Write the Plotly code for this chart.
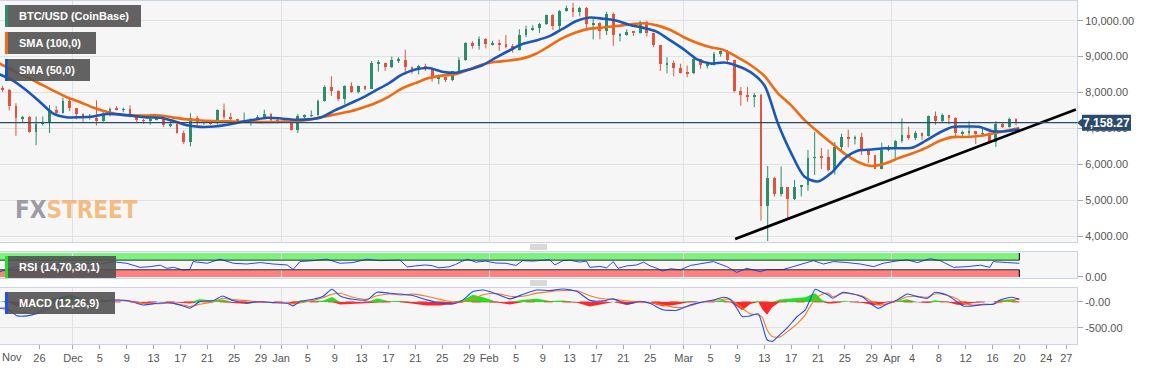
import numpy as np
import pandas as pd
import plotly.graph_objects as go
from plotly.subplots import make_subplots

# ---------------- data ----------------
candle_dates = pd.date_range("2019-11-20 12:00", "2020-04-19 12:00", freq="D")
open_ = [8120, 8080, 7620, 7280, 7330, 6910, 7130, 7170, 7520, 7430, 7760,
         7560, 7400, 7300, 7300, 7200, 7400, 7540, 7520, 7530, 7340, 7230, 7210, 7250, 7270, 7080, 7120, 6880, 6620, 7290, 7150, 7190, 7140, 7520, 7320, 7250, 7200, 7200, 7250, 7310, 7390, 7220,
         7170, 7190, 6960, 7340, 7350, 7360, 7760, 8150, 8050, 7820, 8190, 8020, 8180, 8110, 8810, 8810, 8720, 8900, 8910, 8700, 8630, 8740, 8660, 8390, 8430, 8340, 8600, 8900, 9380, 9290, 9500,
         9350, 9380, 9340, 9290, 9180, 9610, 9760, 9800, 9900, 10160, 9850, 10270, 10350, 10230, 10360, 9900, 9930, 9700, 10180, 9600, 9600, 9690, 9660, 9970, 9650, 9310, 8780, 8810, 8690,
         8540, 8530, 8920, 8760, 8760, 9070, 9150, 8900, 8030, 7940, 7890, 7940, 4830, 5620, 5170, 5360, 5030, 5370, 5410, 6180, 6200, 6190, 5830, 6490, 6770, 6690, 6760, 6380, 6250, 5880, 6410,
         6430, 6650, 6810, 6740, 6870, 6780, 7340, 7200, 7370, 7300, 6870, 6890, 6920, 6850, 6860, 6630, 7120, 7030, 7260]
high = [8190, 8100, 7700, 7350, 7350, 7330, 7330, 7650, 7620, 7860, 7830,
        7560, 7420, 7400, 7780, 7490, 7580, 7620, 7580, 7640, 7400, 7270, 7280, 7320, 7290, 7200, 7140, 6940, 7420, 7350, 7220, 7190, 7530, 7690, 7430, 7270, 7440, 7280, 7370, 7520, 7420, 7310,
        7260, 7200, 7400, 7390, 7500, 7800, 8200, 8450, 8060, 8200, 8280, 8190, 8190, 8880, 8900, 8830, 9000, 8980, 9190, 8720, 8770, 8800, 8670, 8500, 8440, 8600, 8980, 9400, 9430, 9560, 9520,
        9440, 9470, 9600, 9350, 9760, 9860, 9870, 9940, 10170, 10180, 10300, 10420, 10500, 10390, 10380, 10050, 9960, 10250, 10230, 9650, 9760, 9700, 10000, 10000, 9660, 9320, 8980, 8890, 8800,
        8750, 8960, 8930, 8850, 9130, 9170, 9190, 8900, 8150, 8150, 7980, 7960, 5950, 5650, 5940, 5370, 5560, 5420, 6400, 6900, 6450, 6410, 6620, 6850, 6960, 6800, 6880, 6390, 6260, 6600, 6530,
        6680, 7280, 7050, 6930, 6880, 7360, 7470, 7420, 7380, 7310, 6940, 7200, 6930, 6990, 6940, 7200, 7150, 7300, 7280]
low = [8020, 7500, 6790, 7150, 6880, 6530, 7080, 6870, 7380, 7410, 7480,
       7250, 7170, 7240, 7080, 7180, 7330, 7500, 7450, 7300, 7170, 7130, 7100, 7220, 7040, 7030, 6850, 6560, 6500, 7050, 7100, 7100, 7120, 7250, 7160, 7130, 7160, 7070, 7240, 7300, 7200, 7140,
       7150, 6940, 6870, 7270, 7320, 7350, 7740, 7900, 7760, 7670, 7990, 7970, 8060, 8100, 8580, 8600, 8680, 8820, 8500, 8520, 8500, 8600, 8300, 8230, 8290, 8310, 8560, 8880, 9220, 9190, 9230,
       9310, 9160, 9230, 9110, 9170, 9540, 9720, 9660, 9880, 9740, 9730, 10250, 10100, 10120, 9800, 9480, 9480, 9600, 9300, 9420, 9580, 9580, 9640, 9560, 9260, 8600, 8530, 8450, 8530,
       8420, 8510, 8660, 8670, 8750, 9000, 8850, 8000, 7630, 7740, 7590, 4430, 3860, 5100, 5100, 4450, 5000, 5100, 5260, 5700, 5870, 5800, 5710, 6380, 6470, 6550, 6260, 6030, 5880, 5860, 6360,
       6160, 6600, 6680, 6670, 6680, 6770, 7100, 7150, 7110, 6780, 6780, 6800, 6560, 6790, 6620, 6480, 7010, 7020, 7080]
close = [8080, 7620, 7280, 7330, 6910, 7130, 7170, 7520, 7430, 7760, 7560,
         7400, 7300, 7300, 7200, 7400, 7540, 7520, 7530, 7340, 7230, 7210, 7250, 7270, 7080, 7120, 6880, 6620, 7290, 7150, 7190, 7140, 7520, 7320, 7250, 7200, 7200, 7250, 7310, 7390, 7220, 7170,
         7190, 6960, 7340, 7350, 7360, 7760, 8150, 8050, 7820, 8190, 8020, 8180, 8110, 8810, 8810, 8720, 8900, 8910, 8700, 8630, 8740, 8660, 8390, 8430, 8340, 8600, 8900, 9380, 9290, 9500, 9350,
         9380, 9340, 9290, 9180, 9610, 9760, 9800, 9900, 10160, 9850, 10270, 10350, 10230, 10360, 9900, 9930, 9700, 10180, 9600, 9600, 9690, 9660, 9970, 9650, 9310, 8780, 8810, 8690, 8540,
         8530, 8920, 8760, 8760, 9070, 9150, 8900, 8030, 7940, 7890, 7940, 4830, 5620, 5170, 5360, 5030, 5370, 5410, 6180, 6200, 6190, 5830, 6490, 6770, 6690, 6760, 6380, 6250, 5880, 6410, 6430,
         6650, 6810, 6740, 6870, 6780, 7340, 7200, 7370, 7300, 6870, 6890, 6920, 6850, 6860, 6630, 7120, 7030, 7260, 7158]

base_day = pd.Timestamp("2019-11-20")   # day offsets below are counted from this date

sma_days = list(range(0, 153, 2))
sma100 = [8810, 8620, 8435, 8250, 8060, 7875, 7735, 7580, 7460, 7380, 7365, 7360, 7360, 7300, 7250, 7220,
          7205, 7195, 7180, 7175, 7175, 7185, 7200, 7235, 7310, 7385, 7460, 7570, 7700, 7880, 8110, 8260,
          8400, 8470, 8510, 8640, 8780, 8855, 8890, 8950, 9080, 9300, 9520, 9680, 9780, 9810, 9850, 9895,
          9930, 9870, 9740, 9540, 9380, 9260, 9180, 8980, 8760, 8460, 7980, 7640, 7230, 6900, 6590, 6290,
          6060, 5950, 6020, 6170, 6300, 6450, 6640, 6755, 6760, 6785, 6855, 6930, 7010]
sma50 = [8510, 8340, 8070, 7750, 7420, 7310, 7310, 7330, 7400, 7390, 7345, 7305, 7297, 7205, 7085, 7040,
         7050, 7100, 7175, 7240, 7295, 7275, 7240, 7250, 7310, 7500, 7670, 7840, 8045, 8250, 8495, 8640,
         8680, 8580, 8550, 8640, 8760, 8970, 9170, 9355, 9450, 9570, 9780, 9990, 10090, 10055, 10000, 9880,
         9800, 9690, 9450, 9200, 8920, 8805, 8835, 8740, 8560, 8200, 7150, 6310, 5650, 5520, 5760, 6170,
         6380, 6410, 6445, 6445, 6460, 6650, 6870, 7040, 7050, 7045, 6920, 6920, 6970]

rsi_days = [0.1, 1.1, 2.6, 5.1, 7.6, 10, 12.5, 15, 17, 19, 21, 22.5, 24, 25, 26, 27.4, 28.4, 28.9, 31, 32.9,
            34.9, 36.9, 38.9, 40.8, 42.9, 43.8, 44.8, 46.8, 48.8, 50.8, 52.7, 54.8, 56.7, 59.7, 60.8, 62, 63.5,
            64.5, 65.5, 67, 68, 69, 69.8, 71, 72.5, 74, 75.5, 77, 78, 79.5, 81, 82, 82.8, 84, 85, 86.5, 87.5, 88,
            89.5, 90.5, 91.5, 92.2, 93.5, 95, 96, 97, 98, 98.8, 100, 101.5, 103, 104.4, 106.4, 108.4, 109.9,
            111.4, 113.4, 114.4, 116.8, 118.3, 119.8, 121.3, 122.8, 124.3, 126.3, 128.3, 130.3, 131.7, 133.8,
            135.3, 136.8, 138.7, 140.2, 142.2, 144.2, 146.2, 147.6, 148.1, 150.2, 152.0]
rsi_vals = [22, 31, 43, 54, 50, 54, 57, 54, 63, 57, 40, 43, 49, 36, 40, 29, 31, 64, 57, 74,
            57, 54, 60, 54, 50, 31, 64, 68, 74, 57, 60, 74, 68, 70, 42, 46, 50, 47, 38, 42,
            52, 66, 74, 62, 66, 58, 57, 48, 68, 66, 70, 72, 50, 68, 70, 62, 66, 40, 44, 38,
            64, 36, 46, 50, 62, 46, 36, 25, 34, 30, 48, 54, 64, 43, 19, 36, 22, 31, 31, 43,
            57, 68, 54, 64, 60, 54, 43, 57, 67, 71, 60, 76, 68, 40, 43, 49, 40, 64, 60, 57]

macd_days = [0.12, 1.16, 2.65, 4.14, 5.63, 7.57, 9.51, 11.0, 13.1, 15.0, 17.55, 19.5, 21.4, 23.5, 25.4,
             27.4, 28.4, 29.9, 31.9, 33.3, 34.8, 36.9, 38.9, 40.8, 42.9, 43.8, 44.8, 46.8, 48.2, 49.6, 50.8,
             52.7, 54.8, 56.3, 58.2, 59.7, 61.7, 63.7, 65.7, 67.6, 69.1, 70.6, 72.1, 74.2, 76.1, 78.1, 80.1,
             82.1, 84.0, 86.1, 88.0, 90.0, 91.5, 93.5, 95.5, 97.0, 98.9, 101.0, 102.9, 104.4, 106.4, 107.9,
             108.9, 109.9, 110.7, 111.9, 113.1, 113.7, 114.4, 115.2, 116.3, 117.5, 118.9, 120.1, 120.8, 121.6,
             122.6, 123.5, 124.2, 125.7, 127.2, 128.7, 130.1, 131.0, 132.3, 133.8, 135.3, 136.8, 138.3, 139.4,
             141.2, 142.7, 143.6, 145.1, 146.6, 148.1, 149.1, 150.9, 152.0]
macd_vals = [-122, -122, -269, -269, -218, -58, 90, 115, 6, 6, 38, 19, -58, -26, -13,
             -77, -122, 6, 26, 115, 26, -13, 6, -13, -26, -77, 6, 51, 103, 244, 115,
             51, 38, 186, 167, 154, 120, 40, -20, -40, 40, 200, 230, 150, 60, 150, 230,
             220, 250, 200, 30, 20, 60, -40, 10, -30, -150, -160, -60, -13, 38, 90,
             51, -122, -282, -269, -231, -442, -731, -763, -635, -487, -282, -154, 38, 244,
             186, 135, 70, 186, 154, 90, -58, -122, -38, 38, 154, 103, 70, 186,
             135, 6, -77, -77, -45, -45, 38, 90, 51]
signal_vals = [-122, -150, -186, -215, -231, -122, -10, 10, 19, 19, 38, 10, -25, -35, -26,
               -58, -90, -45, 0, 70, 45, 26, 0, -13, -20, -38, -20, 26, 80, 150, 167,
               90, 51, 120, 154, 135, 150, 110, 50, 0, 0, 60, 140, 160, 110, 110, 170,
               200, 220, 215, 120, 60, 50, 20, 0, -10, -60, -110, -80, -10, 30, 51,
               51, -38, -120, -231, -250, -300, -538, -667, -680, -570, -420, -250, -90, 60,
               150, 167, 100, 167, 154, 110, 0, -60, -38, 20, 100, 110, 90, 154,
               130, 60, -20, -58, -58, -40, 0, 38, 51]
hist_vals = [0, 28, -83, -54, 13, 64, 100, 105, -13, -13, 0, 9, -33, 9, 13,
             -19, -32, 51, 26, 45, -19, -39, 6, 0, -6, -39, 26, 25, 23, 94, -52,
             -39, -13, 66, 13, 19, -30, -70, -70, -40, 40, 140, 90, -10, -50, 40, 60,
             20, 30, -15, -90, -40, 10, -60, 10, -20, -90, -50, 20, -3, 8, 39,
             0, -84, -162, -38, 19, -142, -250, -96, 45, 60, 70, 90, 128, 170,
             36, -32, -30, 19, 0, -20, -58, -62, 0, 18, 54, -7, -20, 32,
             5, -54, -57, -19, 13, -5, 38, 52, 0]

last_price = 7158.27
trend_dates = ["2020-03-08 15:30", "2020-04-28 10:00"]
trend_vals = [3917, 7528]

main_ticks = [4000, 5000, 6000, 7000, 8000, 9000, 10000]
macd_ticks = [0, -500]
macd_ticktext = ["-0.00", "-500.00"]
month_starts = ["2019-12-01", "2020-01-01", "2020-02-01", "2020-03-01", "2020-04-01"]
tick_dates = ["2019-11-26", "2019-12-01", "2019-12-05", "2019-12-09", "2019-12-13",
              "2019-12-17", "2019-12-21", "2019-12-25", "2019-12-29", "2020-01-01", "2020-01-05",
              "2020-01-09", "2020-01-13", "2020-01-17", "2020-01-21", "2020-01-25", "2020-01-29",
              "2020-02-01", "2020-02-05", "2020-02-09", "2020-02-13", "2020-02-17", "2020-02-21",
              "2020-02-25", "2020-03-01", "2020-03-05", "2020-03-09", "2020-03-13", "2020-03-17",
              "2020-03-21", "2020-03-25", "2020-03-29", "2020-04-01", "2020-04-04", "2020-04-08",
              "2020-04-12", "2020-04-16", "2020-04-20", "2020-04-24", "2020-04-27"]
tick_text = ["26", "Dec", "5", "9", "13", "17", "21", "25", "29", "Jan", "5", "9", "13", "17",
             "21", "25", "29", "Feb", "5", "9", "13", "17", "21", "25", "Mar", "5", "9", "13", "17", "21",
             "25", "29", "Apr", "4", "8", "12", "16", "20", "24", "27"]
first_month_label = "Nov"

# ---------------- styling ----------------
GREEN = "#2b8f6e"
RED = "#e0553f"
BLUE = "#1c57b8"
ORANGE = "#f06a12"
FONT = "Liberation Sans, Arial, sans-serif"
W_PLOT, PLOT_BOTTOM, PLOT_H = 1077.0, 344.0, 343.0


def px2x(px):
    return px / W_PLOT


def px2y(py):
    return (PLOT_BOTTOM - py) / PLOT_H


def to_dates(days):
    return base_day + pd.to_timedelta(np.asarray(days, dtype=float), unit="D")


fig = make_subplots(rows=3, cols=1, shared_xaxes=True, vertical_spacing=0.02)

# ---- candles ----
o = np.array(open_, float)
h = np.array(high, float)
l = np.array(low, float)
c = np.array(close, float)
up = c >= o
body_base = np.minimum(o, c)
body_len = np.maximum(np.abs(c - o), 14)
fig.add_trace(go.Bar(x=candle_dates, y=body_len, base=body_base, width=0.42 * 86400000,
                     marker=dict(color=np.where(up, GREEN, RED).tolist(), line=dict(width=0)),
                     hoverinfo="skip"), row=1, col=1)
for mask, col in ((up, GREEN), (~up, RED)):
    xs, ys = [], []
    for d, lo, hi in zip(candle_dates[mask], l[mask], h[mask]):
        xs += [d, d, None]
        ys += [lo, hi, None]
    fig.add_trace(go.Scatter(x=xs, y=ys, mode="lines", line=dict(color=col, width=1),
                             hoverinfo="skip"), row=1, col=1)

# ---- moving averages ----
fig.add_trace(go.Scatter(x=to_dates(sma_days), y=sma100, mode="lines",
                         line=dict(color=ORANGE, width=2.6, shape="spline", smoothing=0.8)), row=1, col=1)
fig.add_trace(go.Scatter(x=to_dates(sma_days), y=sma50, mode="lines",
                         line=dict(color=BLUE, width=2.6, shape="spline", smoothing=0.8)), row=1, col=1)

# ---- trend line ----
fig.add_trace(go.Scatter(x=pd.to_datetime(trend_dates), y=trend_vals, mode="lines",
                         line=dict(color="black", width=2.6), cliponaxis=True), row=1, col=1)

# current price line
fig.add_hline(y=last_price, line=dict(color="#2a4a6e", width=1.2), row=1, col=1)

# ---- RSI ----
rsi_end = "2020-04-20 00:00"
fig.add_shape(type="rect", x0="2019-11-18", x1=rsi_end, y0=70, y1=100, fillcolor="#7ef27e",
              line=dict(width=0), layer="below", row=2, col=1)
fig.add_shape(type="rect", x0="2019-11-18", x1=rsi_end, y0=0, y1=30, fillcolor="#ff8080",
              line=dict(width=0), layer="below", row=2, col=1)
for yv in (70, 30):
    fig.add_shape(type="line", x0="2019-11-18", x1=rsi_end, y0=yv, y1=yv,
                  line=dict(color="#303030", width=1), row=2, col=1)
for y0, y1 in ((70, 100), (0, 30)):
    fig.add_shape(type="line", x0=rsi_end, x1=rsi_end, y0=y0, y1=y1,
                  line=dict(color="#202020", width=1.2), row=2, col=1)
fig.add_trace(go.Scatter(x=to_dates(rsi_days), y=rsi_vals, mode="lines",
                         line=dict(color="#2248f0", width=1)), row=2, col=1)

# ---- MACD ----
hist = np.array(hist_vals, float)
mdates = to_dates(macd_days)
fig.add_trace(go.Scatter(x=mdates, y=np.maximum(hist, 0), mode="lines", fill="tozeroy",
                         fillcolor="rgba(20,225,20,0.95)", line=dict(width=0, color="rgba(0,0,0,0)")),
              row=3, col=1)
fig.add_trace(go.Scatter(x=mdates, y=np.minimum(hist, 0), mode="lines", fill="tozeroy",
                         fillcolor="rgba(250,30,30,0.95)", line=dict(width=0, color="rgba(0,0,0,0)")),
              row=3, col=1)
fig.add_shape(type="line", x0="2019-11-18", x1=rsi_end, y0=0, y1=0,
              line=dict(color="#ff4040", width=1, dash="dash"), row=3, col=1)
fig.add_trace(go.Scatter(x=mdates, y=signal_vals, mode="lines",
                         line=dict(color="#ff7a1a", width=1.1, shape="spline", smoothing=0.6)), row=3, col=1)
fig.add_trace(go.Scatter(x=mdates, y=macd_vals, mode="lines",
                         line=dict(color="#1f4cff", width=1.1, shape="spline", smoothing=0.6)), row=3, col=1)

# ---------------- axes ----------------
x_range = ["2019-11-20 03:00", "2020-04-28 14:00"]
axis_line = "#cbd3e4"
common_x = dict(range=x_range, showgrid=False, zeroline=False, showline=True, mirror=True,
                linecolor=axis_line, linewidth=1,
                minor=dict(tickmode="array", tickvals=month_starts, showgrid=True,
                           gridcolor="#e2e2e2", gridwidth=1, ticks=""))
fig.update_xaxes(**common_x)
fig.update_xaxes(showticklabels=False, row=1, col=1)
fig.update_xaxes(showticklabels=False, row=2, col=1)
fig.update_xaxes(tickmode="array", tickvals=tick_dates, ticktext=tick_text, ticks="outside",
                 ticklen=4, tickcolor="#aaaaaa", tickfont=dict(family=FONT, size=11, color="#555555"),
                 showticklabels=True, row=3, col=1)

ytick_font = dict(family=FONT, size=11, color="#555555")
fig.update_yaxes(side="right", zeroline=False, showline=True, mirror=True, linecolor=axis_line,
                 ticks="outside", ticklen=5, tickcolor="#aaaaaa", tickfont=ytick_font)
fig.update_yaxes(range=[3833, 10549], tickmode="array", tickvals=main_ticks,
                 ticktext=[f"{v:,.2f}" for v in main_ticks], gridcolor="#e2e2e2",
                 domain=[px2y(242), 1.0], row=1, col=1)
fig.update_yaxes(range=[-3, 106], tickmode="array", tickvals=[0], ticktext=["0.00"], showgrid=False,
                 domain=[px2y(277.7), px2y(251.5)], row=2, col=1)
fig.update_yaxes(range=[-813, 275], tickmode="array", tickvals=macd_ticks, ticktext=macd_ticktext,
                 gridcolor="#e2e2e2", domain=[0.0, px2y(287.7)], row=3, col=1)

fig.update_layout(width=1153, height=370, margin=dict(l=0, r=76, t=1, b=26),
                  paper_bgcolor="white", plot_bgcolor="#f6f6f6", showlegend=False,
                  barmode="overlay", bargap=0, hovermode=False)

# ---------------- overlays: legend boxes, watermark, price label ----------------
shapes = []
annotations = []
boxes = [("BTC/USD (CoinBase)", 5, 141, 5, 27, "#2e8c70"),
         ("SMA (100,0)", 5, 96, 32, 54, "#ee6b1a"),
         ("SMA (50,0)", 5, 90, 59, 81, "#1b55b5"),
         ("RSI (14,70,30,1)", 5, 116, 256, 278, "#1ee61e"),
         ("MACD (12,26,9)", 5, 115, 292, 314, "#1f4ff0")]
for text, x0, x1, y0, y1, col in boxes:
    shapes.append(dict(type="rect", xref="paper", yref="paper", x0=px2x(x0), x1=px2x(x1),
                       y0=px2y(y1), y1=px2y(y0), fillcolor="rgba(82,82,82,0.9)",
                       line=dict(width=0), layer="above"))
    shapes.append(dict(type="rect", xref="paper", yref="paper", x0=px2x(x0), x1=px2x(x0 + 3),
                       y0=px2y(y1), y1=px2y(y0), fillcolor=col, line=dict(width=0), layer="above"))
    annotations.append(dict(text=f"<b>{text}</b>", xref="paper", yref="paper", x=px2x(17),
                            y=px2y((y0 + y1) / 2), xanchor="left", yanchor="middle", showarrow=False,
                            font=dict(family=FONT, size=11, color="white")))

annotations.append(dict(
    text='<b><span style="color:rgba(140,140,150,0.85)">FX</span>'
         '<span style="color:rgba(242,178,110,0.85)">STREET</span></b>',
    xref="paper", yref="paper", x=px2x(13), y=px2y(210), xanchor="left", yanchor="middle",
    showarrow=False, font=dict(family="DejaVu Sans Condensed, Liberation Sans Narrow, sans-serif", size=24)))

# first (clipped) month label at the left edge of the date axis
annotations.append(dict(text=first_month_label, xref="paper", yref="paper", x=0.0, y=px2y(357),
                        xanchor="left", yanchor="middle", showarrow=False,
                        font=dict(family=FONT, size=11, color="#555555")))

# price label on the right axis
px_per_unit = 0.03588
shapes.append(dict(type="rect", xref="paper", yref="y", x0=px2x(1082), x1=px2x(1131),
                   y0=last_price - 8 / px_per_unit, y1=last_price + 8 / px_per_unit,
                   fillcolor="#2a4a6e", line=dict(width=0), layer="above"))
shapes.append(dict(type="path", xref="paper", yref="y",
                   path=f"M {px2x(1077)},{last_price} L {px2x(1083)},{last_price + 5 / px_per_unit} "
                        f"L {px2x(1083)},{last_price - 5 / px_per_unit} Z",
                   fillcolor="#2a4a6e", line=dict(width=0), layer="above"))
annotations.append(dict(text=f"<b>{last_price:,.2f}</b>", xref="paper", yref="y",
                        x=px2x(1106.5), y=last_price, xanchor="center", yanchor="middle",
                        showarrow=False, font=dict(family=FONT, size=12, color="white")))

# panel resize handles
for yc in (247, 283):
    for dy in (-2, 0, 2):
        shapes.append(dict(type="line", xref="paper", yref="paper", x0=px2x(530), x1=px2x(547),
                           y0=px2y(yc + dy), y1=px2y(yc + dy), line=dict(color="#a0a0a0", width=0.8)))

fig.update_layout(shapes=list(fig.layout.shapes) + shapes,
                  annotations=list(fig.layout.annotations) + annotations)

fig.write_html("out.html", config={"displayModeBar": False},
               post_script="document.body.style.margin='0';")
